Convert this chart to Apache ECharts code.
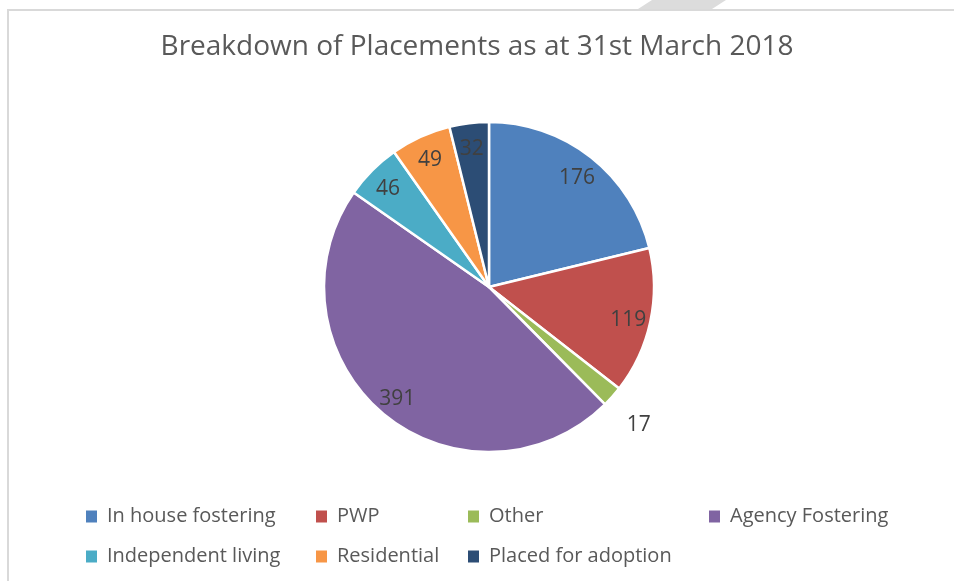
<!DOCTYPE html>
<html>
<head>
<meta charset="utf-8">
<script src="https://cdn.jsdelivr.net/npm/echarts@6/dist/echarts.min.js"></script>
<style>
  html, body { margin: 0; padding: 0; background: #fff; }
  #chart { width: 954px; height: 581px; }
</style>
</head>
<body>
<div id="chart"></div>
<script>
var categories = ['In house fostering', 'PWP', 'Other', 'Agency Fostering', 'Independent living', 'Residential', 'Placed for adoption'];
var values = [176, 119, 17, 391, 46, 49, 32];
var colors = ['#4F81BD', '#C0504D', '#9BBB59', '#8064A2', '#4BACC6', '#F79646', '#2C4D75'];
var outsideLabels = ['Other'];

var chart = echarts.init(document.getElementById('chart'));
var font = '"Open Sans", sans-serif';

var pieData = categories.map(function (name, i) {
    return { name: name, value: values[i], itemStyle: { color: colors[i] } };
});
// transparent copies only used to place the data labels
var innerLabelData = categories.map(function (name, i) {
    return { name: name, value: values[i], label: { show: outsideLabels.indexOf(name) < 0 } };
});
var outerLabelData = categories.map(function (name, i) {
    return { name: name, value: values[i], label: { show: outsideLabels.indexOf(name) >= 0 } };
});

function legendCol(left, names) {
    return {
        orient: 'vertical',
        left: left,
        top: 505,
        padding: 0,
        itemWidth: 11,
        itemHeight: 12,
        itemGap: 17,
        icon: 'rect',
        selectedMode: false,
        itemStyle: { borderWidth: 0 },
        data: names,
        textStyle: { fontFamily: font, fontSize: 20, color: '#595959', lineHeight: 23, padding: [0, 0, 0, 5] }
    };
}

var labelLayer = {
    type: 'pie',
    center: [489, 290],
    startAngle: 90,
    silent: true,
    legendHoverLink: false,
    itemStyle: { color: 'rgba(0,0,0,0)', borderWidth: 0 },
    label: {
        position: 'inside',
        fontFamily: font,
        fontSize: 21,
        color: '#404040',
        formatter: '{c}'
    },
    labelLine: { show: false },
    emphasis: { disabled: true },
    animation: false
};

var option = {
    animation: false,
    title: {
        text: 'Breakdown of Placements as at 31st March 2018',
        left: 'center',
        top: 28,
        textStyle: { fontFamily: font, fontSize: 28, fontWeight: 'normal', color: '#595959' }
    },
    legend: [
        legendCol(86, ['In house fostering', 'Independent living']),
        legendCol(316, ['PWP', 'Residential']),
        legendCol(468, ['Other', 'Placed for adoption']),
        legendCol(709, ['Agency Fostering'])
    ],
    graphic: [
        {
            type: 'polygon',
            shape: { points: [[638, 9], [652, 0], [726, 0], [712, 9]] },
            style: { fill: '#DCDCDC' },
            silent: true
        },
        {
            type: 'rect',
            shape: { x: 8, y: 10, width: 960, height: 600 },
            style: { fill: 'none', stroke: '#D9D9D9', lineWidth: 2 },
            silent: true
        }
    ],
    series: [
        {
            type: 'pie',
            name: 'placements',
            center: [489, 287],
            radius: [0, 165],
            startAngle: 90,
            data: pieData,
            itemStyle: { borderColor: '#fff', borderWidth: 2.5 },
            label: { show: false },
            labelLine: { show: false },
            emphasis: { scale: false }
        },
        Object.assign({}, labelLayer, { radius: [114, 165], data: innerLabelData }),
        Object.assign({}, labelLayer, { center: [487, 290], radius: [178, 222], data: outerLabelData })
    ]
};

chart.setOption(option);
</script>
</body>
</html>
